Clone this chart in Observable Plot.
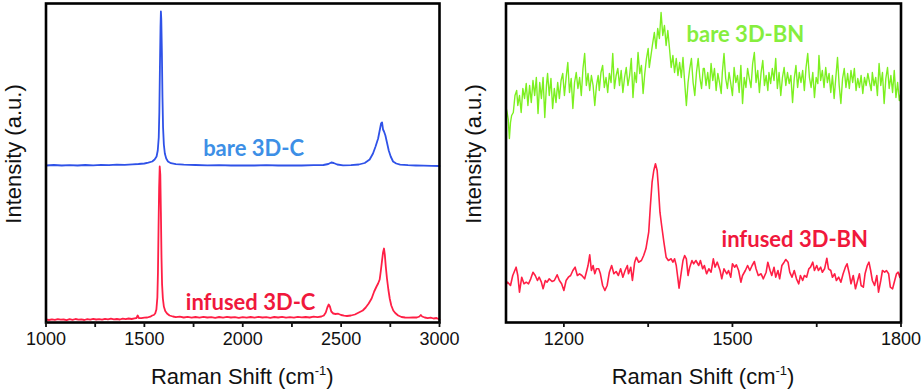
<!DOCTYPE html>
<html>
<head>
<meta charset="utf-8">
<script src="https://cdn.jsdelivr.net/npm/d3@7"></script>
<script src="https://cdn.jsdelivr.net/npm/@observablehq/plot@0.6"></script>
<style>
  html, body { margin: 0; padding: 0; background: #fff; }
  #wrap { position: relative; width: 924px; height: 392px; overflow: hidden; }
  #left, #right { position: absolute; top: 0; }
  #left { left: 0; }
  #right { left: 460px; }
</style>
</head>
<body>
<div id="wrap"><div id="left"></div><div id="right"></div></div>
<script>
// ---------- Data (Raman shift in cm^-1, intensity in arbitrary units) ----------
const leftMajorTicks = [1000, 1500, 2000, 2500, 3000];
const leftMinorTicks = [1250, 1750, 2250, 2750];
const rightMajorTicks = [1200, 1500, 1800];
const rightMinorTicks = [1350, 1650];

const bareC = [
[1000,157],[1040,157.5],[1080,157],[1120,157.3],[1160,157],[1200,157.5],[1240,157.2],[1280,157.6],[1320,157.3],[1360,157.8],[1400,157.6],[1440,158.2],[1470,158.5],[1500,159],[1520,159.8],[1540,161],[1552,163],[1562,166],[1568,172],[1573,185],[1576,210],[1579,255],[1582,295],[1584,311],[1586,303],[1589,270],[1592,225],[1595,195],[1599,178],[1604,169],[1611,164],[1620,161],[1635,159.3],[1660,158.3],[1700,157.8],[1760,157.5],[1820,157.2],[1880,157.4],[1940,157],[2000,157.2],[2060,157],[2120,157.3],[2180,157],[2240,157.2],[2300,157],[2360,157.3],[2410,157.5],[2435,158.5],[2450,160],[2462,159.5],[2480,158],[2510,157.2],[2550,157.3],[2590,158],[2620,159.5],[2645,163],[2662,169],[2675,176],[2688,184],[2698,194],[2703,199],[2708,200],[2713,193],[2718,191],[2725,187],[2733,180],[2742,172],[2752,166],[2764,161],[2780,159],[2800,157.8],[2840,157.3],[2880,157],[2920,156.8],[2960,156.6],[3000,156.5]
];

const infusedC = [
[1000,3],[1015,2.5],[1030,3.2],[1045,2.6],[1060,3.4],[1075,2.8],[1090,3],[1105,2.4],[1120,3.3],[1135,2.7],[1150,3.5],[1165,2.9],[1180,3.1],[1195,2.5],[1210,3.4],[1225,2.9],[1240,3.6],[1255,3],[1270,3.3],[1285,2.8],[1300,3.6],[1315,3.1],[1330,3.8],[1345,3.2],[1360,3.5],[1375,3],[1390,3.9],[1405,3.3],[1420,4],[1435,3.5],[1450,4.2],[1460,4.5],[1466,7],[1472,4.5],[1485,4.3],[1500,4.8],[1515,5],[1530,5.8],[1540,7],[1548,7.5],[1555,9],[1561,13],[1566,25],[1569,50],[1572,95],[1575,135],[1578,156],[1581,148],[1584,110],[1587,65],[1590,38],[1594,24],[1599,16],[1606,11.5],[1615,9],[1628,7],[1645,6],[1660,5.3],[1680,5.8],[1700,5],[1720,5.6],[1740,4.8],[1760,5.5],[1780,4.9],[1800,5.7],[1820,5],[1840,5.4],[1860,4.7],[1880,5.5],[1900,4.9],[1920,5.6],[1940,5],[1960,5.3],[1980,4.6],[2000,5.4],[2020,4.8],[2040,5.5],[2060,4.9],[2080,5.6],[2100,5],[2120,5.3],[2140,4.7],[2160,5.5],[2180,5],[2200,5.6],[2220,4.9],[2240,5.3],[2260,4.8],[2280,5.6],[2300,5.1],[2320,5.5],[2340,5],[2360,5.8],[2380,5.4],[2400,6],[2412,7],[2422,10],[2430,15],[2437,18],[2443,16],[2450,11],[2460,9],[2472,8.5],[2485,8.8],[2500,7.5],[2515,6.8],[2530,6.5],[2550,7],[2570,8],[2590,10],[2610,12],[2625,15],[2640,19],[2655,24],[2668,31],[2680,36],[2688,39],[2696,43],[2702,52],[2708,62],[2713,70],[2718,74],[2722,68],[2727,56],[2733,44],[2740,33],[2747,24],[2755,17],[2765,12],[2775,9.5],[2790,7],[2807,5.5],[2825,5],[2845,4.8],[2865,5.2],[2885,5],[2898,6],[2905,7.5],[2912,6],[2925,5],[2940,4.3],[2955,4.8],[2970,4],[2985,4.5],[2995,3.5],[3000,3]
];

const bareBN = [
[1097,215],[1099,210],[1101,203],[1103,184],[1105,200],[1107,207],[1110,210],[1113,227],[1116,232],[1118,217],[1121,227],[1124,210],[1127,234],[1130,224],[1133,239],[1136,217],[1139,237],[1142,220],[1145,242],[1148,227],[1151,245],[1154,209],[1157,240],[1160,224],[1163,245],[1166,205],[1169,237],[1171,249],[1174,227],[1177,244],[1180,214],[1183,234],[1186,220],[1189,240],[1192,224],[1195,242],[1198,249],[1201,227],[1204,245],[1207,260],[1210,230],[1213,244],[1216,214],[1219,240],[1222,250],[1225,234],[1228,245],[1231,227],[1234,254],[1237,269],[1240,237],[1243,249],[1246,232],[1249,247],[1252,237],[1255,217],[1258,237],[1261,247],[1263,232],[1266,250],[1269,257],[1272,235],[1275,245],[1278,230],[1281,249],[1284,240],[1287,269],[1290,234],[1293,247],[1296,254],[1299,237],[1302,252],[1305,230],[1308,245],[1311,255],[1314,237],[1317,247],[1320,264],[1323,225],[1326,250],[1329,240],[1332,270],[1335,249],[1338,257],[1341,229],[1344,249],[1347,264],[1350,274],[1352,255],[1355,267],[1358,279],[1361,290],[1364,274],[1367,294],[1370,284],[1373,310],[1376,287],[1379,297],[1382,277],[1385,292],[1388,274],[1391,255],[1394,267],[1397,250],[1400,264],[1403,247],[1406,260],[1409,245],[1412,265],[1415,240],[1418,217],[1421,240],[1424,254],[1427,264],[1430,240],[1433,227],[1436,250],[1439,264],[1442,245],[1445,234],[1448,254],
[1450,254],[1453,237],[1456,250],[1459,234],[1462,259],[1465,242],[1468,254],[1471,232],[1474,249],[1477,240],[1480,229],[1482,250],[1485,269],[1488,244],[1491,234],[1494,250],[1497,239],[1500,227],[1503,255],[1506,240],[1509,247],[1512,230],[1515,257],[1518,219],[1521,245],[1524,235],[1527,254],[1530,244],[1533,235],[1536,259],[1539,270],[1542,240],[1545,252],[1548,230],[1551,250],[1554,262],[1557,237],[1560,247],[1563,232],[1565,250],[1568,239],[1571,254],[1574,242],[1577,264],[1580,234],[1583,250],[1586,227],[1589,245],[1592,255],[1595,237],[1598,250],[1601,239],[1604,247],[1607,220],[1610,244],[1613,257],[1616,235],[1619,250],[1622,240],[1625,252],[1628,232],[1631,255],[1634,269],[1637,245],[1640,235],[1643,250],[1646,225],[1649,245],[1652,239],[1654,267],[1657,242],[1660,252],[1663,235],[1666,255],[1669,240],[1672,249],[1675,230],[1678,247],[1681,224],[1684,245],[1687,265],[1690,237],[1693,219],[1696,244],[1699,254],[1702,235],[1705,249],[1708,234],[1711,252],[1714,240],[1717,254],[1720,232],[1723,244],[1726,235],[1729,247],[1732,229],[1735,245],[1738,237],[1741,249],[1744,240],[1747,232],[1749,250],[1752,237],[1755,245],[1758,227],[1761,259],[1764,237],[1767,250],[1770,219],[1773,244],[1776,255],[1779,234],[1782,247],[1785,230],[1788,252],[1791,225],[1794,240],[1797,222],[1800,230]
];

const infusedBN = [
[1097,38],[1100,40.3],[1105,37],[1109,47],[1115,55.3],[1118,47],[1121,30.3],[1125,45.3],[1129,38.7],[1133,40.3],[1137,38.7],[1141,43.7],[1145,50.3],[1149,47],[1153,42],[1156,45.3],[1160,40.3],[1163,33.7],[1167,42],[1170,40.3],[1174,43.7],[1179,41],[1183,42],[1188,47.7],[1192,42],[1196,38.7],[1200,32],[1204,42],[1208,45.3],[1212,47],[1216,52],[1220,55.3],[1224,47],[1228,48.7],[1232,47],[1237,43.7],[1240,50.3],[1243,57],[1246,67.7],[1249,52],[1252,57],[1255,48.7],[1258,53.7],[1262,53.7],[1265,48.7],[1269,37],[1273,32],[1277,37],[1281,50.3],[1285,57],[1289,48.7],[1293,51],[1297,47],[1301,53.7],[1305,45.3],[1309,52],[1313,57],[1315,48.7],[1319,55.3],[1322,42],[1326,60.3],[1329,65.3],[1333,60.3],[1338,62],[1342,67],[1346,73.7],[1351,90.3],[1354,117],[1357,140.3],[1360,152],[1363,158.7],[1366,152],[1368,137],[1371,110.3],[1374,97],[1378,80.3],[1382,65.3],[1386,62],[1391,63.7],[1394,60.3],[1397,63.7],[1400,57],[1403,43.7],[1405,34.3],[1409,50.3],[1412,62],[1415,67],[1418,63.7],[1421,47],[1424,55.3],[1428,62],[1431,58.7],[1435,62],[1440,57],[1443,62],[1447,53.7],
[1450,57],[1454,48.7],[1458,53.7],[1462,50.3],[1466,63.7],[1469,55.3],[1473,60.3],[1478,52],[1481,43.7],[1485,53.7],[1490,48.7],[1493,52],[1497,45.3],[1500,58.7],[1504,55.3],[1507,57.7],[1511,52],[1515,40.3],[1518,47],[1523,52],[1527,57],[1531,52],[1535,57],[1539,61],[1542,53.7],[1546,47],[1551,48.7],[1555,43.7],[1560,50.3],[1563,60.3],[1567,52],[1570,47],[1574,55.3],[1577,45.3],[1581,52],[1584,43.7],[1588,57],[1592,60.3],[1595,63],[1599,60.3],[1602,50.3],[1606,45.3],[1610,52],[1614,43.7],[1618,38.7],[1621,47],[1625,42],[1628,47],[1632,45.3],[1636,53.7],[1639,55.3],[1643,60.3],[1646,52],[1650,57],[1653,52],[1657,55.3],[1660,50.3],[1664,53.7],[1668,64.3],[1671,53.7],[1675,52],[1678,45.3],[1682,48.7],[1685,42],[1689,45.3],[1693,40.3],[1697,48.7],[1701,55.3],[1704,58.7],[1708,48.7],[1711,38.7],[1715,47],[1719,33.7],[1722,40.3],[1726,48.7],[1729,37],[1733,35.3],[1736,48.7],[1740,57],[1743,60.3],[1746,52],[1749,42],[1753,37],[1757,47],[1760,30.3],[1764,42],[1767,52],[1771,50.3],[1774,52],[1778,48.7],[1781,35.3],[1785,33.7],[1788,40.3],[1792,48.7],[1795,50.3],[1798,45],[1800,52]
];

const leftLabels = [
  {x: 2055, y: 174, text: "bare 3D-C", color: "#3d8fe6"},
  {x: 2040, y: 20, text: "infused 3D-C", color: "#f0183c"}
];
const rightLabels = [
  {x: 1523, y: 288, text: "bare 3D-BN", color: "#86ee3e"},
  {x: 1611, y: 83, text: "infused 3D-BN", color: "#f0183c"}
];

// ---------- Drawing ----------
const FONT = "'Liberation Sans', Arial, sans-serif";
const LABELFONT = "Lato, 'Open Sans', sans-serif";

function panel({width, marginLeft, marginRight, xDomain, majors, minors, series, labels}) {
  const chart = Plot.plot({
    width, height: 392,
    marginLeft, marginRight, marginTop: 3, marginBottom: 70,
    style: {fontFamily: FONT, background: "#fff", overflow: "visible", color: "#111"},
    x: {domain: xDomain},
    y: {domain: [0, 319], axis: null},
    marks: [
      ...series.map(s => Plot.line(s.data, {x: d => d[0], y: d => d[1], stroke: s.color, strokeWidth: s.width})),
      Plot.text(labels, {x: "x", y: "y", text: "text", fill: "color", fontFamily: LABELFONT, fontWeight: "bold", fontSize: 22}),
      Plot.frame({stroke: "#000", strokeWidth: 2.6}),
      Plot.axisX({ticks: majors, tickSize: 5, tickPadding: 5, fontSize: 18, tickFormat: d => String(d), label: null, strokeWidth: 1.8}),
      Plot.axisX({ticks: minors, tickSize: 5, tickFormat: () => "", label: null, strokeWidth: 1.8})
    ]
  });
  const svg = d3.select(chart);
  // y-axis title
  svg.append("text")
    .attr("transform", `translate(${marginLeft - 32},154) rotate(-90)`)
    .attr("text-anchor", "middle")
    .attr("dominant-baseline", "central")
    .attr("font-family", FONT)
    .attr("font-size", 22)
    .attr("fill", "#111")
    .text("Intensity (a.u.)");
  // x-axis title with superscript
  const plotCenter = marginLeft + (width - marginLeft - marginRight) / 2;
  const t = svg.append("text")
    .attr("x", plotCenter).attr("y", 384)
    .attr("text-anchor", "middle")
    .attr("font-family", FONT)
    .attr("font-size", 22)
    .attr("fill", "#111");
  t.append("tspan").text("Raman Shift (cm");
  t.append("tspan").attr("font-size", 13).attr("dy", -9).text("-1");
  t.append("tspan").attr("dy", 9).text(")");
  return chart;
}

document.getElementById("left").appendChild(panel({
  width: 460, marginLeft: 45.5, marginRight: 21,
  xDomain: [1000, 3000], majors: leftMajorTicks, minors: leftMinorTicks,
  series: [
    {data: bareC, color: "#2f52e8", width: 1.8},
    {data: infusedC, color: "#ff1f45", width: 1.8}
  ],
  labels: leftLabels
}));

document.getElementById("right").appendChild(panel({
  width: 464, marginLeft: 45.5, marginRight: 23.5,
  xDomain: [1097, 1800], majors: rightMajorTicks, minors: rightMinorTicks,
  series: [
    {data: bareBN, color: "#7cf020", width: 1.4},
    {data: infusedBN, color: "#ff1f45", width: 1.6}
  ],
  labels: rightLabels
}));
</script>
</body>
</html>
